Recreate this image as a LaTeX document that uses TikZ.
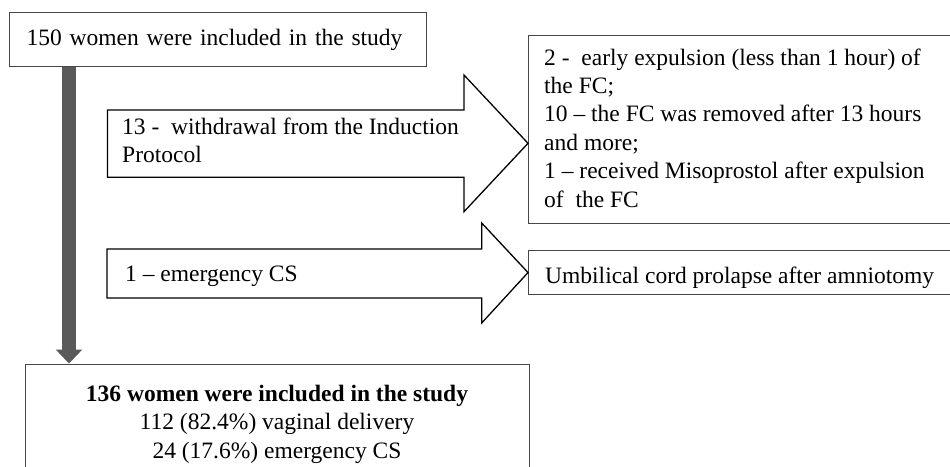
\documentclass[tikz,border=0pt]{standalone}
\usepackage{fontspec}
\setmainfont{Liberation Serif}
\usetikzlibrary{arrows.meta}
\definecolor{bargrey}{RGB}{90,90,90}
\definecolor{boxline}{RGB}{70,70,70}
\begin{document}
\begin{tikzpicture}[x=1pt,y=-1pt,
  txt/.style={font=\fontsize{23.5}{28.4}\selectfont, inner sep=0pt, align=left},
  frame/.style={draw=boxline, line width=1.1pt, inner sep=0pt},
  blockarrow/.style={draw=black, line width=1.3pt, fill=white, line join=miter}]
\useasboundingbox (0,0) rectangle (950,466);

% top box
\node[frame, txt, anchor=north west, minimum height=54pt, text width=383pt,
      inner xsep=17pt] (top) at (9,12) {150 women were included in the study};

% bottom box
\node[frame, anchor=north west, minimum width=504pt, minimum height=120pt] (bot) at (25,363.5) {};
\node[txt, align=center, anchor=base] (bottxt) at (277,458)
  {\textbf{136 women were included in the study}\\112 (82.4\%) vaginal delivery\\24 (17.6\%) emergency CS};

% right boxes
\node[frame, anchor=north west, minimum width=440pt, minimum height=188pt] (r1) at (528,35) {};
\node[txt, anchor=base west] (r1txt) at (544,207)
  {2 -~ early expulsion (less than 1 hour) of\\the FC;\\10 -- the FC was removed after 13 hours\\and more;\\1 -- received Misoprostol after expulsion\\of~ the FC};
\node[frame, anchor=north west, minimum width=440pt, minimum height=44pt] (r2) at (528,250) {};
\node[txt, anchor=base west] (r2txt) at (545,283) {Umbilical cord prolapse after amniotomy};

% block arrows
\draw[blockarrow] (107.5,110) -- (464,110) -- (464,75) -- (r1.west |- 0,143.3)
  -- (464,211.7) -- (464,177.3) -- (107.5,177.3) -- cycle;
\node[txt, anchor=base west, font=\fontsize{23.5}{28}\selectfont] (a1txt) at (122,162) {13 -~ withdrawal from the Induction\\Protocol};
\draw[blockarrow] (107,249) -- (481.7,249) -- (481.7,223) -- (r2.west)
  -- (481.7,323) -- (481.7,298) -- (107,298) -- cycle;
\node[txt, anchor=base west] (a2txt) at (125,281.7) {1 -- emergency CS};

% grey vertical arrow
\coordinate (gx) at (69,0);
\draw[bargrey, line width=13.4pt,
      -{Triangle[width=26.7pt, length=14pt, line width=0pt]}]
  (gx |- top.south) -- (gx |- bot.north);
\end{tikzpicture}
\end{document}
